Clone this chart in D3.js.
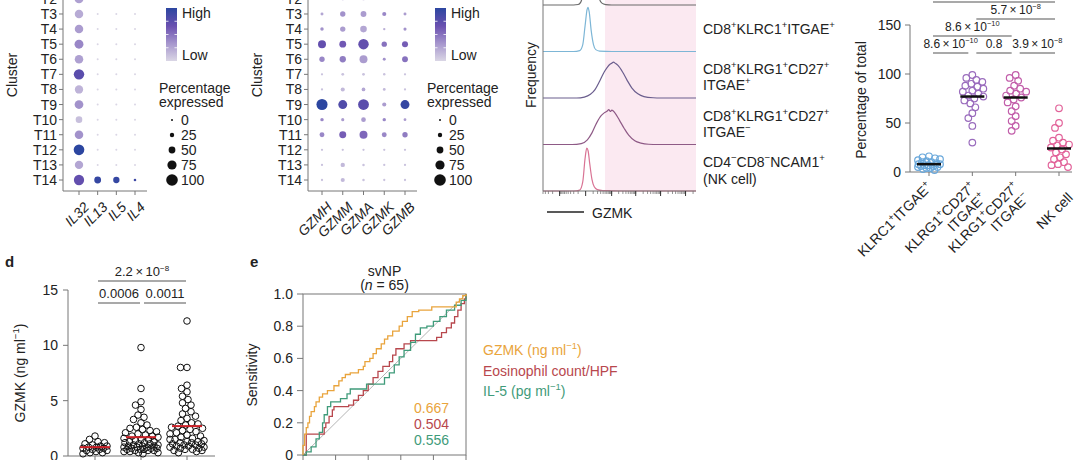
<!DOCTYPE html>
<html><head><meta charset="utf-8">
<script src="https://cdn.jsdelivr.net/npm/d3@7"></script>
<style>
body{margin:0;background:#fff}
svg{display:block}
text{font-family:"Liberation Sans",Arial,Helvetica,sans-serif;fill:#222}
</style>
</head><body>
<svg id="c" width="1080" height="460"></svg>
<script>
// ======================= DATA =======================
const clusters = ["T2","T3","T4","T5","T6","T7","T8","T9","T10","T11","T12","T13","T14"];
const ilGenes = ["IL32","IL13","IL5","IL4"];
// percentage expressed, rows = clusters, cols = ilGenes
const ilPct = [
  [72,0,0,0],[68,0,0,0],[68,0,0,0],[72,0,0,0],[68,0,0,0],[88,0,0,0],
  [66,0,0,0],[70,0,0,0],[48,0,0,0],[68,0,0,0],[90,0,0,0],[66,0,0,0],[86,50,45,6]
];
const ilExpr = [
  [0.28,0,0,0],[0.22,0,0,0],[0.3,0,0,0],[0.4,0,0,0],[0.28,0,0,0],[0.75,0,0,0],
  [0.18,0,0,0],[0.35,0,0,0],[0.12,0,0,0],[0.35,0,0,0],[1.0,0,0,0],[0.25,0,0,0],[0.7,0.95,0.95,0.9]
];
const gzmGenes = ["GZMH","GZMM","GZMA","GZMK","GZMB"];
const gzmPct = [
  [4,8,8,4,4],[10,35,40,22,10],[15,35,48,4,12],[62,50,88,35,42],[35,45,62,10,40],[3,8,8,5,3],
  [3,22,18,8,3],[95,72,92,22,72],[15,12,28,15,8],[30,52,62,30,35],[3,3,3,3,3],[3,25,5,3,3],[3,22,5,3,3]
];
const gzmExpr = [
  [0.2,0.2,0.2,0.2,0.2],[0.25,0.35,0.3,0.4,0.3],[0.35,0.3,0.25,0.2,0.35],
  [0.7,0.62,0.7,0.5,0.6],[0.4,0.45,0.3,0.35,0.5],[0.1,0.1,0.1,0.1,0.1],[0.1,0.15,0.25,0.15,0.1],
  [1.0,0.8,0.75,0.3,0.95],[0.4,0.3,0.3,0.4,0.3],[0.4,0.6,0.55,0.4,0.45],[0.1,0.1,0.1,0.1,0.1],
  [0.1,0.15,0.1,0.1,0.1],[0.1,0.15,0.1,0.1,0.1]
];
const sizeLegend = [0,25,50,75,100];

// Histogram panel (GZMK, display units 0-100; frequency relative to row height)
const histRows = ["CD8+ total","KLRC1","KLRG1 ITGAE+","KLRG1 ITGAE-","NK"];
const histGrey = [[0,0],[20,0],[23,0.01],[24.5,0.05],[25.5,0.15],[27,0.6],[30,1.4],[33,1.2],[35.5,0.4],[37,0.12],[38.5,0.04],[41,0.01],[45,0],[100,0]];
const histKLRC1 = [[0,0],[20,0],[24,0.02],[26,0.15],[27.5,0.55],[28.8,0.9],[29.4,0.95],[30.2,0.85],[31.5,0.45],[33,0.15],[34.5,0.04],[37,0.01],[45,0],[100,0]];
const histKLRG1pos = [[0,0],[22,0],[27,0.02],[31,0.08],[34,0.18],[37,0.36],[40,0.56],[42,0.66],[44,0.73],[45,0.75],[46,0.77],[47.5,0.74],[49,0.7],[52,0.56],[55,0.38],[58,0.22],[62,0.09],[66,0.03],[72,0.005],[77,0],[100,0]];
const histKLRG1neg = [[0,0],[19,0],[25,0.02],[29,0.1],[32,0.25],[35,0.46],[38,0.62],[40,0.68],[42,0.72],[43,0.75],[44,0.71],[45,0.74],[47,0.68],[50,0.52],[53,0.35],[56,0.2],[60,0.08],[64,0.03],[69,0.005],[75,0],[100,0]];
const histNK = [[0,0],[20,0],[24,0.02],[26,0.2],[27.5,0.7],[28.6,0.92],[29.5,0.86],[30.5,0.6],[32,0.25],[33.5,0.09],[35.5,0.03],[39,0.01],[45,0.005],[55,0],[100,0]];
const gzmkGate = 40.5;

// Percentage of total
const pctCats = ["KLRC1+ITGAE+","KLRG1+CD27+ITGAE+","KLRG1+CD27+ITGAE-","NK cell"];
const pctKLRC1 = [2,3,4,4,5,5,6,6,7,7,8,8,9,10,10,11,12,13,14,15,16];
const pctKLRG1pos = [99,96,94,92,90,88,87,85,83,82,80,78,77,75,73,70,66,60,55,47,30];
const pctKLRG1neg = [99,96,93,88,85,83,82,80,78,76,74,71,67,62,57,52,47,42];
const pctNK = [65,50,45,35,32,30,28,27,25,23,20,18,15,13,10,8,7,5];
const pctMedians = [8,77,76,24];
const pctTicks = [0,50,100,150];
const pctCompare = [[0,1,"8.6\u2009×\u200910^{−10}",1],[1,2,"0.8",1],[2,3,"3.9\u2009×\u200910^{−8}",1],[0,2,"8.6\u2009×\u200910^{−10}",2],[1,3,"5.7\u2009×\u200910^{−8}",3],[0,3,"",4]];

// Panel d: serum GZMK
const dGroups = ["group1","group2","group3"];
const dGroup1 = [1.8,1.5,1.3,1.2,1.1,1.0,0.9,0.9,0.8,0.8,0.7,0.7,0.6,0.6,0.5,0.5,0.4,0.3,0.3,0.2];
const dGroup2 = [9.8,6.1,4.9,4.6,4.2,3.7,3.5,3.3,3.0,2.8,2.6,2.5,2.4,2.3,2.2,2.1,2.0,1.9,1.8,1.8,1.7,1.6,1.5,1.5,1.4,1.3,1.3,1.2,1.2,1.1,1.1,1.0,1.0,0.9,0.9,0.9,0.8,0.8,0.8,0.7,0.7,0.7,0.6,0.6,0.6,0.5,0.5,0.5,0.4,0.4,0.3,0.3,0.2];
const dGroup3 = [12.2,8.0,8.0,6.4,6.1,5.8,5.4,5.1,4.8,4.6,4.3,4.0,3.8,3.6,3.4,3.2,3.0,2.9,2.8,2.7,2.6,2.5,2.4,2.3,2.2,2.1,2.0,1.9,1.8,1.7,1.6,1.5,1.5,1.4,1.3,1.3,1.2,1.2,1.1,1.1,1.0,1.0,0.9,0.9,0.8,0.8,0.7,0.7,0.6,0.6,0.5,0.5,0.4,0.3];
const dMedians = [0.8,1.7,2.7];
const dTicks = [0,5,10,15];
const dCompare = [[0,1,"0.0006",1],[1,2,"0.0011",1],[0,2,"2.2\u2009×\u200910^{−8}",2]];

// Panel e: ROC (fpr, tpr)
const rocGZMK = [[0,0],[0,0.06],[0.01,0.13],[0.02,0.17],[0.03,0.2],[0.04,0.24],[0.05,0.27],[0.07,0.3],[0.08,0.33],[0.1,0.36],[0.12,0.38],[0.15,0.4],[0.19,0.43],[0.22,0.46],[0.24,0.48],[0.26,0.5],[0.29,0.51],[0.34,0.53],[0.37,0.55],[0.38,0.58],[0.41,0.6],[0.43,0.63],[0.45,0.66],[0.48,0.69],[0.5,0.72],[0.52,0.74],[0.55,0.77],[0.59,0.8],[0.61,0.83],[0.64,0.86],[0.67,0.89],[0.71,0.9],[0.79,0.92],[0.92,0.92],[0.94,0.95],[0.96,0.97],[0.98,0.99],[1,1]];
const rocEos = [[0,0],[0.02,0.06],[0.02,0.13],[0.12,0.13],[0.13,0.17],[0.14,0.2],[0.16,0.24],[0.18,0.28],[0.19,0.3],[0.28,0.31],[0.31,0.34],[0.34,0.37],[0.37,0.4],[0.4,0.44],[0.43,0.48],[0.46,0.52],[0.49,0.55],[0.53,0.58],[0.55,0.62],[0.57,0.66],[0.62,0.69],[0.66,0.71],[0.8,0.71],[0.82,0.73],[0.85,0.76],[0.88,0.79],[0.91,0.82],[0.93,0.86],[0.95,0.9],[0.97,0.94],[0.99,0.97],[1,1]];
const rocIL5 = [[0,0],[0.02,0.02],[0.05,0.05],[0.08,0.1],[0.1,0.14],[0.12,0.2],[0.13,0.25],[0.15,0.3],[0.17,0.33],[0.23,0.35],[0.27,0.38],[0.29,0.41],[0.37,0.41],[0.39,0.44],[0.47,0.44],[0.5,0.48],[0.53,0.51],[0.56,0.56],[0.59,0.61],[0.62,0.65],[0.66,0.7],[0.69,0.75],[0.72,0.79],[0.76,0.8],[0.8,0.83],[0.84,0.86],[0.88,0.9],[0.93,0.93],[0.97,0.96],[1,1]];
const rocLabels = ["GZMK (ng ml^{−1})","Eosinophil count/HPF","IL-5 (pg ml^{−1})"];
const rocAUC = ["0.667","0.504","0.556"];
const rocTicks = [0,0.2,0.4,0.6,0.8,1.0];

// ======================= DRAWING =======================
const svg = d3.select("#c");
const AX = "#777";
const FS = 14;

function rich(t, str, fs, supScale) {
  const ss = supScale || 0.68;
  const parts = str.split(/(\^\{[^}]*\})/);
  let up = false;
  parts.forEach(p => {
    if (!p) return;
    if (p.startsWith("^{")) {
      t.append("tspan").attr("dy", -fs*0.42).attr("font-size", fs*ss).text(p.slice(2,-1));
      up = true;
    } else {
      const s = t.append("tspan").text(p);
      if (up) { s.attr("dy", fs*0.42); up = false; }
    }
  });
  return t;
}

const colExpr = d3.scaleLinear().domain([0,0.33,0.66,1]).range(["#dad6e5","#a696cd","#6a50b0","#2c46a0"]);
const rSize = d3.scaleLinear().domain([0,100]).range([1,5.8]);
const yClu = d3.scalePoint().domain(clusters).range([-1.1,180]);

const defs = svg.append("defs");
const grad = defs.append("linearGradient").attr("id","expr").attr("x1",0).attr("x2",0).attr("y1",0).attr("y2",1);
[1,0.66,0.33,0].forEach(v => grad.append("stop").attr("offset", 1-v).attr("stop-color", colExpr(v)));

function dotPlot(genes, pct, expr, axX, gx0, gx1, axEnd, cluLabelX, barX, dotLegX) {
  const g = svg.append("g");
  const x = d3.scalePoint().domain(genes).range([gx0, gx1]);
  const axisBottom = 191;
  g.append("line").attr("x1",axX).attr("x2",axX).attr("y1",0).attr("y2",axisBottom).attr("stroke",AX);
  g.append("line").attr("x1",axX).attr("x2",axEnd).attr("y1",axisBottom).attr("y2",axisBottom).attr("stroke",AX);
  clusters.forEach(c => {
    g.append("line").attr("x1",axX-4).attr("x2",axX).attr("y1",yClu(c)).attr("y2",yClu(c)).attr("stroke",AX);
    g.append("text").attr("x",axX-6).attr("y",yClu(c)).attr("dy","0.36em").attr("text-anchor","end").attr("font-size",FS).text(c);
  });
  genes.forEach(gn => {
    g.append("line").attr("x1",x(gn)).attr("x2",x(gn)).attr("y1",axisBottom).attr("y2",axisBottom+4).attr("stroke",AX);
    g.append("text").attr("transform",`translate(${x(gn)+4},${axisBottom+10}) rotate(-45)`)
      .attr("text-anchor","end").attr("font-size",FS).attr("font-style","italic").attr("dy","0.7em").text(gn);
  });
  clusters.forEach((c,i) => genes.forEach((gn,j) => {
    g.append("circle").attr("cx",x(gn)).attr("cy",yClu(c)).attr("r",rSize(pct[i][j])).attr("fill",colExpr(expr[i][j]));
  }));
  g.append("text").attr("transform",`translate(${cluLabelX},75) rotate(-90)`).attr("text-anchor","middle").attr("font-size",FS).text("Cluster");
  g.append("rect").attr("x",barX).attr("y",8).attr("width",11).attr("height",53).attr("fill","url(#expr)");
  [0.25,0.5,0.75].forEach(f => {
    const yy = 8 + 53*f;
    g.append("line").attr("x1",barX).attr("x2",barX+2.5).attr("y1",yy).attr("y2",yy).attr("stroke","#fff").attr("stroke-width",0.8);
    g.append("line").attr("x1",barX+8.5).attr("x2",barX+11).attr("y1",yy).attr("y2",yy).attr("stroke","#fff").attr("stroke-width",0.8);
  });
  g.append("text").attr("x",barX+16).attr("y",18).attr("font-size",FS).text("High");
  g.append("text").attr("x",barX+16).attr("y",60).attr("font-size",FS).text("Low");
  g.append("text").attr("x",dotLegX-13).attr("y",93).attr("font-size",FS).text("Percentage");
  g.append("text").attr("x",dotLegX-13).attr("y",107).attr("font-size",FS).text("expressed");
  const ys = d3.scalePoint().domain(sizeLegend).range([120,180]);
  sizeLegend.forEach(v => {
    g.append("circle").attr("cx",dotLegX).attr("cy",ys(v)).attr("r",rSize(v)).attr("fill","#111");
    g.append("text").attr("x",dotLegX+9).attr("y",ys(v)).attr("dy","0.36em").attr("font-size",FS).text(v);
  });
}
dotPlot(ilGenes, ilPct, ilExpr, 63, 79, 135, 147, 17, 166, 172);
dotPlot(gzmGenes, gzmPct, gzmExpr, 308, 322, 405, 417, 262, 435, 440);

// bounded beeswarm: points may overlap once the band is full
function beeswarm(vals, yS, cx, r, maxOff) {
  const placed = [];
  const dist = 2*r*0.95;
  const pts = vals.map(v => ({v, y: yS(v)})).sort((a,b) => a.y - b.y);
  pts.forEach(p => {
    let best = null, bestD = -1, done = false;
    for (let k = 0; k <= maxOff*4; k++) {
      const off = (k % 2 === 0 ? 1 : -1) * Math.ceil(k/2) * 0.5;
      const xx = cx + off;
      let md = Infinity;
      placed.forEach(q => { const d = Math.hypot(q.x-xx, q.y-p.y); if (d < md) md = d; });
      if (md >= dist) { p.x = xx; done = true; break; }
      if (md > bestD) { bestD = md; best = xx; }
    }
    if (!done) p.x = best;
    placed.push(p);
  });
  return placed;
}

// ---------- Histogram panel ----------
(function(){
  const g = svg.append("g");
  const hx = d3.scaleLinear().domain([0,100]).range([543,696]);
  const rowY = d3.scalePoint().domain(histRows).range([5,191]);
  const unit = 46.5;
  g.append("rect").attr("x",hx(gzmkGate)).attr("y",0).attr("width",hx(100)-hx(gzmkGate)).attr("height",191).attr("fill","#fbe9f1");
  const series = [histGrey,histKLRC1,histKLRG1pos,histKLRG1neg,histNK];
  const cols = ["#6b6b6b","#7db6d6","#6b5e8e","#8e5a86","#d97394"];
  series.forEach((s,i) => {
    const base = rowY(histRows[i]);
    const line = d3.line().x(d=>hx(d[0])).y(d=>base - d[1]*unit).curve(d3.curveMonotoneX);
    g.append("path").attr("d",line(s)).attr("fill","none").attr("stroke",cols[i]).attr("stroke-width",1.2);
  });
  g.append("line").attr("x1",543).attr("x2",543).attr("y1",0).attr("y2",191).attr("stroke",AX);
  g.append("line").attr("x1",543).attr("x2",696).attr("y1",191).attr("y2",191).attr("stroke",AX);
  const sx = d3.scaleSymlog().constant(10).domain([-500,262143]).range([543,696]);
  const minor = [];
  [-100,-10].forEach(d => { for (let m=1;m<10;m++) if (d*m >= -500) minor.push(d*m); });
  [10,100,1000,10000,100000].forEach(d => { for (let m=1;m<10;m++) if (d*m <= 262143) minor.push(d*m); });
  const major = [-100,0,100,1000,10000,100000];
  minor.forEach(v => g.append("line").attr("x1",sx(v)).attr("x2",sx(v)).attr("y1",191).attr("y2",194).attr("stroke",AX).attr("stroke-width",0.8));
  major.forEach(v => g.append("line").attr("x1",sx(v)).attr("x2",sx(v)).attr("y1",191).attr("y2",196).attr("stroke","#333").attr("stroke-width",1));
  g.append("text").attr("transform","translate(536,75) rotate(-90)").attr("text-anchor","middle").attr("font-size",FS).text("Frequency");
  g.append("line").attr("x1",547).attr("x2",584).attr("y1",212).attr("y2",212).attr("stroke","#222").attr("stroke-width",1.3);
  g.append("text").attr("x",592).attr("y",218).attr("font-size",FS).text("GZMK");
  const labs = [
    ["CD8^{+}KLRC1^{+}ITGAE^{+}", 34],
    ["CD8^{+}KLRG1^{+}CD27^{+}", 74], ["ITGAE^{+}", 90],
    ["CD8^{+}KLRG1^{+}CD27^{+}", 121], ["ITGAE^{−}", 137],
    ["CD4^{−}CD8^{−}NCAM1^{+}", 167], ["(NK cell)", 184]
  ];
  labs.forEach(l => rich(g.append("text").attr("x",703).attr("y",l[1]).attr("font-size",FS), l[0], FS));
})();

// ---------- Percentage of total ----------
(function(){
  const g = svg.append("g");
  const x = d3.scalePoint().domain(pctCats).range([929,1059]);
  const y = d3.scaleLinear().domain([0,150]).range([172,25]);
  const axisX = 910;
  g.append("line").attr("x1",axisX).attr("x2",axisX).attr("y1",y(150)).attr("y2",y(0)).attr("stroke",AX);
  g.append("line").attr("x1",axisX).attr("x2",1072).attr("y1",y(0)).attr("y2",y(0)).attr("stroke",AX);
  pctTicks.forEach(t => {
    g.append("line").attr("x1",axisX-5).attr("x2",axisX).attr("y1",y(t)).attr("y2",y(t)).attr("stroke",AX);
    g.append("text").attr("x",axisX-9).attr("y",y(t)).attr("dy","0.36em").attr("text-anchor","end").attr("font-size",FS).text(t);
  });
  g.append("text").attr("transform","translate(866,100) rotate(-90)").attr("text-anchor","middle").attr("font-size",FS).text("Percentage of total");
  const sets = [pctKLRC1,pctKLRG1pos,pctKLRG1neg,pctNK];
  const cols = ["#6aa8db","#9a6cbd","#c25eaa","#e2639a"];
  sets.forEach((vals,i) => {
    const pts = beeswarm(vals, y, x(pctCats[i]), 3.3, 11);
    g.selectAll(null).data(pts).enter().append("circle").attr("cx",d=>d.x).attr("cy",d=>d.y).attr("r",3.3)
      .attr("fill","none").attr("stroke",cols[i]).attr("stroke-width",1.2);
  });
  pctMedians.forEach((m,i) => g.append("line").attr("x1",x(pctCats[i])-12).attr("x2",x(pctCats[i])+12)
    .attr("y1",y(m)).attr("y2",y(m)).attr("stroke","#111").attr("stroke-width",2.5));
  pctCats.forEach(c => g.append("line").attr("x1",x(c)).attr("x2",x(c)).attr("y1",172).attr("y2",176).attr("stroke",AX));
  const labs = [["KLRC1^{+}ITGAE^{+}"],["KLRG1^{+}CD27^{+}","ITGAE^{+}"],["KLRG1^{+}CD27^{+}","ITGAE^{−}"],["","NK cell"]];
  labs.forEach((ls,i) => ls.forEach((l,k) => {
    if (!l) return;
    rich(g.append("text").attr("transform",`translate(${x(pctCats[i])+4+k*10.6},${188+k*10.6}) rotate(-45)`)
      .attr("text-anchor","end").attr("font-size",FS), l, FS);
  }));
  pctCompare.forEach(c => {
    const ly = 53 - (c[3]-1)*17;
    const x1 = x(pctCats[c[0]])+4, x2 = x(pctCats[c[1]])-4;
    g.append("line").attr("x1",x1).attr("x2",x2).attr("y1",ly).attr("y2",ly).attr("stroke","#555").attr("stroke-width",1.1);
    if (c[2]) rich(g.append("text").attr("x",(x1+x2)/2).attr("y",ly-5).attr("text-anchor","middle").attr("font-size",12), c[2], 12, 0.62);
  });
})();

// ---------- Panel d ----------
(function(){
  const g = svg.append("g");
  g.append("text").attr("x",5).attr("y",267).attr("font-size",15).attr("font-weight","bold").text("d");
  const x = d3.scalePoint().domain(dGroups).range([95,187]);
  const y = d3.scaleLinear().domain([0,15]).range([456,290]);
  const axisX = 68;
  g.append("line").attr("x1",axisX).attr("x2",axisX).attr("y1",y(15)).attr("y2",y(0)).attr("stroke",AX);
  g.append("line").attr("x1",axisX).attr("x2",215).attr("y1",y(0)).attr("y2",y(0)).attr("stroke",AX);
  dTicks.forEach(t => {
    g.append("line").attr("x1",axisX-5).attr("x2",axisX).attr("y1",y(t)).attr("y2",y(t)).attr("stroke",AX);
    g.append("text").attr("x",axisX-10).attr("y",y(t)).attr("dy","0.36em").attr("text-anchor","end").attr("font-size",FS).text(t);
  });
  dGroups.forEach(c => g.append("line").attr("x1",x(c)).attr("x2",x(c)).attr("y1",y(0)).attr("y2",y(0)+5).attr("stroke",AX));
  rich(g.append("text").attr("transform","translate(25,373) rotate(-90)").attr("text-anchor","middle").attr("font-size",FS), "GZMK (ng ml^{−1})", FS);
  const maxOffs = [12,17,17];
  [dGroup1,dGroup2,dGroup3].forEach((vals,i) => {
    const pts = beeswarm(vals, y, x(dGroups[i]), 3.3, maxOffs[i]);
    g.selectAll(null).data(pts).enter().append("circle").attr("cx",d=>d.x).attr("cy",d=>d.y).attr("r",3.3)
      .attr("fill","none").attr("stroke","#111").attr("stroke-width",1);
  });
  dMedians.forEach((m,i) => g.append("line").attr("x1",x(dGroups[i])-15).attr("x2",x(dGroups[i])+15)
    .attr("y1",y(m)).attr("y2",y(m)).attr("stroke","#cc2027").attr("stroke-width",2));
  dCompare.forEach(c => {
    const ly = c[3] === 1 ? 303 : 281;
    const x1 = x(dGroups[c[0]])+3, x2 = x(dGroups[c[1]])-1;
    g.append("line").attr("x1",x1).attr("x2",x2).attr("y1",ly).attr("y2",ly).attr("stroke","#555").attr("stroke-width",1.1);
    rich(g.append("text").attr("x",(x1+x2)/2).attr("y",ly-5).attr("text-anchor","middle").attr("font-size",13), c[2], 13, 0.62);
  });
})();

// ---------- Panel e ----------
(function(){
  const g = svg.append("g");
  g.append("text").attr("x",250).attr("y",267).attr("font-size",15).attr("font-weight","bold").text("e");
  const x = d3.scaleLinear().domain([0,1]).range([303,466]);
  const y = d3.scaleLinear().domain([0,1]).range([455,294]);
  g.append("rect").attr("x",x(0)).attr("y",y(1)).attr("width",x(1)-x(0)).attr("height",y(0)-y(1)).attr("fill","none").attr("stroke",AX);
  rocTicks.forEach(t => {
    g.append("line").attr("x1",x(0)-6).attr("x2",x(0)).attr("y1",y(t)).attr("y2",y(t)).attr("stroke",AX);
    g.append("text").attr("x",x(0)-10).attr("y",y(t)).attr("dy","0.36em").attr("text-anchor","end").attr("font-size",FS).text(t === 0 ? "0" : t.toFixed(1));
    g.append("line").attr("x1",x(t)).attr("x2",x(t)).attr("y1",y(0)).attr("y2",y(0)+6).attr("stroke",AX);
  });
  g.append("text").attr("transform","translate(257,375) rotate(-90)").attr("text-anchor","middle").attr("font-size",FS).text("Sensitivity");
  g.append("text").attr("x",(x(0)+x(1))/2).attr("y",276).attr("text-anchor","middle").attr("font-size",FS).text("svNP");
  const t2 = g.append("text").attr("x",(x(0)+x(1))/2).attr("y",290).attr("text-anchor","middle").attr("font-size",FS);
  t2.append("tspan").text("(");
  t2.append("tspan").attr("font-style","italic").text("n");
  t2.append("tspan").text(" = 65)");
  g.append("line").attr("x1",x(0)).attr("y1",y(0)).attr("x2",x(1)).attr("y2",y(1)).attr("stroke","#b5b5b5").attr("stroke-width",1);
  const cols = ["#e9a43c","#b8474d","#3f9b7a"];
  const line = d3.line().x(d=>x(d[0])).y(d=>y(d[1])).curve(d3.curveStepAfter);
  [[rocEos,1],[rocIL5,2],[rocGZMK,0]].forEach(([s,ci]) => {
    g.append("path").attr("d",line(s)).attr("fill","none").attr("stroke",cols[ci]).attr("stroke-width",1.3);
  });
  rocLabels.forEach((l,i) => rich(g.append("text").attr("x",483).attr("y",355+i*20.5).attr("font-size",FS).style("fill",cols[i]), l, FS)
    .selectAll("tspan").style("fill",cols[i]));
  rocAUC.forEach((a,i) => g.append("text").attr("x",449).attr("y",413+i*16).attr("text-anchor","end").attr("font-size",FS).style("fill",cols[i]).text(a));
})();
</script>
</body></html>
